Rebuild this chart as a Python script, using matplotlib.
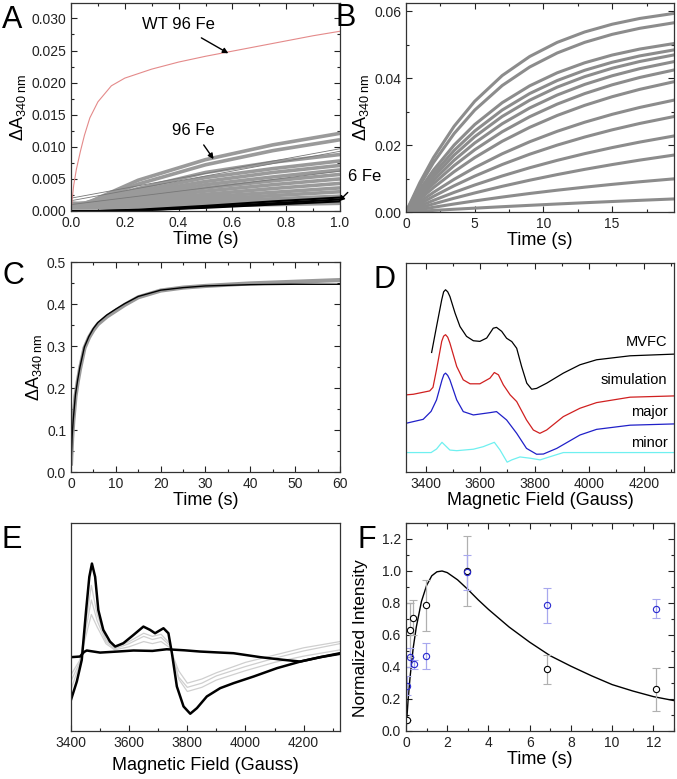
import matplotlib
matplotlib.use("Agg")
import matplotlib.pyplot as plt
from matplotlib.ticker import MultipleLocator, NullLocator, FormatStrFormatter

plt.rcParams['font.family'] = ['Liberation Sans', 'DejaVu Sans']
plt.rcParams['mathtext.fontset'] = 'custom'
plt.rcParams['mathtext.rm'] = 'Liberation Sans'
plt.rcParams['mathtext.it'] = 'Liberation Sans:italic'

# ---------------- Panel A data ----------------
A_wt_t = [0, 0.01, 0.02, 0.035, 0.05, 0.07, 0.1, 0.15, 0.2, 0.3, 0.4, 0.5, 0.6, 0.7, 0.8, 0.9, 1.0]
A_wt_y = [0, 0.0040, 0.0065, 0.0093, 0.0118, 0.0145, 0.0170, 0.0195, 0.0207, 0.0221,
          0.0232, 0.0241, 0.0249, 0.0257, 0.0265, 0.0273, 0.0280]
A_t = [0, 0.05, 0.1, 0.25, 0.5, 0.75, 1.0]
A_gray = [
    [0.0012, 0.0010, 0.0020, 0.0048, 0.0080, 0.0103, 0.0121],
    [0.0012, 0.0012, 0.0019, 0.0042, 0.0072, 0.0094, 0.0111],
    [0.0010, 0.0012, 0.0017, 0.0035, 0.0060, 0.0076, 0.0088],
    [0.0010, 0.0012, 0.0016, 0.0031, 0.0052, 0.0066, 0.0078],
    [0.0010, 0.0011, 0.0015, 0.0028, 0.0046, 0.0060, 0.0071],
    [0.0010, 0.0011, 0.0014, 0.0025, 0.0041, 0.0053, 0.0064],
    [0.0010, 0.0011, 0.0013, 0.0022, 0.0036, 0.0047, 0.0057],
    [0.0010, 0.0010, 0.0012, 0.0019, 0.0031, 0.0041, 0.0050],
    [0.0010, 0.0010, 0.0011, 0.0016, 0.0026, 0.0035, 0.0043],
    [0.0010, 0.0010, 0.0010, 0.0014, 0.0022, 0.0029, 0.0036],
    [0.0008, 0.0008, 0.0009, 0.0012, 0.0018, 0.0024, 0.0030],
    [0.0008, 0.0008, 0.0008, 0.0010, 0.0015, 0.0019, 0.0023],
    [0.0006, 0.0006, 0.0006, 0.0008, 0.0011, 0.0014, 0.0017],
    [0.0005, 0.0005, 0.0005, 0.0006, 0.0008, 0.0010, 0.0012],
]
A_black = [
    [0, 0, 0, 0.0002, 0.0008, 0.0015, 0.0021],
    [0, 0, 0, 0.0001, 0.0006, 0.0012, 0.0018],
    [0, 0, 0, 0.0001, 0.0005, 0.0010, 0.0015],
]
A_fit_t = [0, 1.0]
A_fits = [[0.0020, 0.0097], [0.0016, 0.0093], [0.0010, 0.0062]]

# ---------------- Panel B data ----------------
B_t = [0, 1, 2, 3.5, 5, 7, 9, 11, 13, 15, 17, 19.5]
B_traces = [
    [0, 0.00873, 0.01624, 0.02559, 0.03306, 0.04074, 0.04643, 0.05064, 0.05375, 0.05606, 0.05778, 0.0593],
    [0, 0.00789, 0.01476, 0.02341, 0.03043, 0.03776, 0.04329, 0.04748, 0.05065, 0.05304, 0.05484, 0.0565],
    [0, 0.00666, 0.01251, 0.01997, 0.02611, 0.03264, 0.03767, 0.04156, 0.04455, 0.04686, 0.04864, 0.0503],
    [0, 0.00606, 0.01143, 0.01837, 0.02417, 0.03044, 0.03537, 0.03925, 0.04231, 0.04471, 0.0466, 0.0484],
    [0, 0.00554, 0.01049, 0.01697, 0.02248, 0.02853, 0.03338, 0.03728, 0.04041, 0.04292, 0.04493, 0.0469],
    [0, 0.00498, 0.00949, 0.01546, 0.0206, 0.02635, 0.03106, 0.03492, 0.03809, 0.04067, 0.04279, 0.0449],
    [0, 0.00441, 0.00844, 0.01385, 0.01858, 0.02396, 0.02845, 0.03221, 0.03535, 0.03797, 0.04016, 0.0424],
    [0, 0.00379, 0.00728, 0.01203, 0.01624, 0.02112, 0.02527, 0.02882, 0.03184, 0.03442, 0.03661, 0.0389],
    [0, 0.00303, 0.00586, 0.00975, 0.01325, 0.01738, 0.02097, 0.02409, 0.0268, 0.02916, 0.03121, 0.0334],
    [0, 0.00241, 0.00467, 0.00783, 0.01071, 0.01418, 0.01725, 0.01997, 0.02238, 0.02453, 0.02643, 0.0285],
    [0, 0.00178, 0.00347, 0.00585, 0.00806, 0.01076, 0.01321, 0.01542, 0.01742, 0.01923, 0.02087, 0.0227],
    [0, 0.00123, 0.00241, 0.0041, 0.00569, 0.00767, 0.00949, 0.01117, 0.01273, 0.01416, 0.01549, 0.0170],
    [0, 0.00072, 0.00141, 0.00239, 0.00331, 0.00446, 0.00553, 0.00651, 0.00741, 0.00825, 0.00902, 0.0099],
    [0, 0.00024, 0.00047, 0.00082, 0.00115, 0.00158, 0.00199, 0.00239, 0.00277, 0.00313, 0.00348, 0.0039],
]

# ---------------- Panel C data ----------------
C_t = [0, 0.25, 0.5, 1, 1.5, 2, 3, 4, 5, 6, 8, 10, 12, 15, 20, 25, 30, 40, 50, 60]
C_data = [0.02, 0.08, 0.12, 0.18, 0.215, 0.245, 0.295, 0.32, 0.338, 0.352, 0.37, 0.384,
          0.398, 0.416, 0.432, 0.439, 0.443, 0.449, 0.453, 0.457]
C_fit = [0.02, 0.085, 0.125, 0.185, 0.22, 0.25, 0.298, 0.323, 0.342, 0.356, 0.374, 0.388,
         0.401, 0.418, 0.433, 0.439, 0.443, 0.446, 0.447, 0.447]

# ---------------- Panel D data ----------------
D_mvfc_x = [3422, 3440, 3459, 3466, 3473, 3481, 3489, 3508, 3526, 3550, 3575, 3599, 3624, 3648,
            3660, 3679, 3697, 3716, 3734, 3752, 3771, 3789, 3807, 3844, 3905, 3966, 4027, 4150, 4311]
D_mvfc_y = [0.572, 0.696, 0.824, 0.862, 0.872, 0.862, 0.840, 0.760, 0.696, 0.649, 0.628, 0.625,
            0.641, 0.688, 0.692, 0.673, 0.640, 0.624, 0.592, 0.505, 0.425, 0.396, 0.400, 0.425,
            0.473, 0.513, 0.537, 0.556, 0.564]
D_sim_x = [3328, 3355, 3385, 3415, 3427, 3440, 3459, 3466, 3473, 3481, 3489, 3514, 3538, 3563,
           3599, 3636, 3652, 3667, 3685, 3710, 3734, 3770, 3795, 3819, 3844, 3905, 3966, 4027,
           4150, 4311]
D_sim_y = [0.369, 0.372, 0.380, 0.388, 0.405, 0.490, 0.625, 0.650, 0.657, 0.645, 0.617, 0.505,
           0.441, 0.422, 0.422, 0.449, 0.476, 0.465, 0.417, 0.369, 0.337, 0.249, 0.201, 0.185,
           0.201, 0.265, 0.305, 0.332, 0.358, 0.364]
D_major_x = [3328, 3391, 3420, 3440, 3460, 3467, 3473, 3481, 3489, 3514, 3538, 3575, 3636, 3660,
             3697, 3734, 3770, 3807, 3832, 3881, 3966, 4027, 4150, 4311]
D_major_y = [0.233, 0.252, 0.290, 0.345, 0.440, 0.466, 0.473, 0.462, 0.441, 0.345, 0.289, 0.273,
             0.284, 0.289, 0.249, 0.185, 0.113, 0.085, 0.086, 0.113, 0.177, 0.204, 0.224, 0.230]
D_minor_x = [3328, 3420, 3440, 3460, 3489, 3514, 3575, 3611, 3652, 3673, 3699, 3716, 3746,
             3783, 3820, 3856, 3905, 4311]
D_minor_y = [0.093, 0.093, 0.110, 0.142, 0.105, 0.102, 0.109, 0.121, 0.142, 0.105, 0.047,
             0.058, 0.072, 0.066, 0.058, 0.073, 0.093, 0.093]
D_labels = ["MVFC", "simulation", "major", "minor"]

# ---------------- Panel E data ----------------
E_x1 = [3400, 3420, 3437, 3452, 3463, 3472, 3483, 3494, 3511, 3534, 3552, 3580, 3615, 3649,
        3672, 3689, 3718, 3735, 3747, 3764, 3787, 3810, 3833, 3867, 3913, 3959, 4028, 4108,
        4189, 4258, 4325]
E_y1 = [0.150, 0.238, 0.342, 0.581, 0.741, 0.805, 0.741, 0.581, 0.486, 0.430, 0.406, 0.422,
        0.462, 0.502, 0.486, 0.470, 0.494, 0.470, 0.374, 0.214, 0.118, 0.083, 0.110, 0.166,
        0.206, 0.230, 0.262, 0.302, 0.334, 0.355, 0.371]
E_x2 = [3400, 3431, 3445, 3454, 3500, 3560, 3615, 3680, 3729, 3790, 3844, 3900, 3959, 4051,
        4131, 4188, 4257, 4325]
E_y2 = [0.355, 0.358, 0.380, 0.387, 0.377, 0.382, 0.387, 0.385, 0.393, 0.388, 0.382, 0.378,
        0.374, 0.355, 0.342, 0.334, 0.355, 0.374]
E_xg = [3400, 3430, 3450, 3470, 3490, 3520, 3550, 3600, 3650, 3680, 3710, 3740, 3770, 3800,
        3850, 3900, 4000, 4100, 4200, 4325]
E_gray = [
    [0.20, 0.32, 0.51, 0.70, 0.56, 0.44, 0.40, 0.43, 0.47, 0.455, 0.465, 0.42, 0.25, 0.19,
     0.21, 0.245, 0.29, 0.33, 0.36, 0.39],
    [0.24, 0.33, 0.48, 0.63, 0.53, 0.43, 0.395, 0.42, 0.455, 0.44, 0.45, 0.41, 0.26, 0.21,
     0.23, 0.265, 0.31, 0.35, 0.385, 0.42],
    [0.27, 0.34, 0.45, 0.56, 0.50, 0.42, 0.39, 0.405, 0.43, 0.42, 0.43, 0.40, 0.29, 0.23,
     0.25, 0.28, 0.33, 0.365, 0.40, 0.43],
]

# ---------------- Panel F data ----------------
F_t_black = [0.05, 0.19, 0.35, 0.98, 2.95, 6.85, 12.15]
F_y_black = [0.066, 0.63, 0.708, 0.786, 1.0, 0.385, 0.261]
F_err_black = [0.0, 0.17, 0.11, 0.16, 0.22, 0.09, 0.135]
F_t_blue = [0.05, 0.19, 0.38, 0.98, 2.95, 6.85, 12.15]
F_y_blue = [0.282, 0.461, 0.416, 0.467, 0.993, 0.786, 0.765]
F_err_blue = [0.06, 0.06, 0.03, 0.08, 0.11, 0.11, 0.06]
F_model_t = [0, 0.1, 0.2, 0.35, 0.5, 0.75, 1.0, 1.25, 1.5, 1.75, 2.0, 2.5, 3, 3.5, 4, 5, 6, 7,
             8, 9, 10, 11, 12, 13]
F_model_y = [0, 0.19, 0.34, 0.52, 0.65, 0.81, 0.91, 0.97, 0.995, 1.0, 0.99, 0.945, 0.885,
             0.82, 0.76, 0.65, 0.555, 0.47, 0.405, 0.345, 0.29, 0.25, 0.215, 0.19]

# ---------------- Figure ----------------
W, H = 677, 779
fig = plt.figure(figsize=(W / 100, H / 100), dpi=100)


def ax_px(left, top, right, bottom):
    return fig.add_axes([left / W, 1 - bottom / H, (right - left) / W, (bottom - top) / H])


def style(ax, top=True, right=True, left=True):
    ax.tick_params(which='both', direction='in', top=top, right=right, left=left,
                   labelsize=10, width=0.8, colors='#222222')
    ax.tick_params(which='major', length=4)
    ax.tick_params(which='minor', length=2.5)
    for s in ax.spines.values():
        s.set_linewidth(0.9)
        s.set_color('#333333')


ylab = 'ΔA$_{\\mathrm{340\\ nm}}$'
LBL = 13
LETTER = 22

# Panel A
axA = ax_px(71, 3, 340, 211)
for tr in A_gray:
    axA.plot(A_t, tr, color='#9a9a9a', lw=2.6, solid_capstyle='butt')
for tr in A_fits:
    axA.plot(A_fit_t, tr, color='#777777', lw=0.6)
for tr in A_black:
    axA.plot(A_t, tr, color='black', lw=1.5)
axA.plot(A_wt_t, A_wt_y, color='#e48a8a', lw=0.8)
axA.set_xlim(0, 1.0)
axA.set_ylim(0, 0.0324)
axA.xaxis.set_major_locator(MultipleLocator(0.2))
axA.xaxis.set_minor_locator(MultipleLocator(0.1))
axA.yaxis.set_major_locator(MultipleLocator(0.005))
axA.yaxis.set_minor_locator(MultipleLocator(0.0025))
axA.xaxis.set_major_formatter(FormatStrFormatter('%.1f'))
axA.yaxis.set_major_formatter(FormatStrFormatter('%.3f'))
style(axA)
axA.set_xlabel('Time (s)', fontsize=LBL, labelpad=1)
axA.set_ylabel(ylab, fontsize=LBL, labelpad=2)
axA.annotate('WT 96 Fe', xy=(0.585, 0.02456), xytext=(0.40, 0.0290), fontsize=12,
             ha='center', va='center',
             arrowprops=dict(arrowstyle='-|>', color='black', lw=1.0, mutation_scale=8,
                             shrinkA=4, shrinkB=0))
axA.annotate('96 Fe', xy=(0.53, 0.00808), xytext=(0.455, 0.0126), fontsize=12,
             ha='center', va='center',
             arrowprops=dict(arrowstyle='-|>', color='black', lw=1.0, mutation_scale=8,
                             shrinkA=4, shrinkB=0))
axA.annotate('6 Fe', xy=(0.995, 0.0015), xytext=(1.09, 0.0054), fontsize=12,
             ha='center', va='center', annotation_clip=False,
             arrowprops=dict(arrowstyle='-|>', color='black', lw=1.0, mutation_scale=8,
                             shrinkA=6, shrinkB=0))

# Panel B
axB = ax_px(406, 3, 674, 212)
for tr in B_traces:
    axB.plot(B_t, tr, color='#8c8c8c', lw=2.2)
axB.set_xlim(0, 19.5)
axB.set_ylim(0, 0.0624)
axB.xaxis.set_major_locator(MultipleLocator(5))
axB.xaxis.set_minor_locator(MultipleLocator(2.5))
axB.yaxis.set_major_locator(MultipleLocator(0.02))
axB.yaxis.set_minor_locator(MultipleLocator(0.01))
axB.yaxis.set_major_formatter(FormatStrFormatter('%.2f'))
style(axB)
axB.set_xlabel('Time (s)', fontsize=LBL, labelpad=1)
axB.set_ylabel(ylab, fontsize=LBL, labelpad=2)

# Panel C
axC = ax_px(71, 262, 340, 472)
axC.plot(C_t, C_data, color='#9a9a9a', lw=3.0)
axC.plot(C_t, C_fit, color='black', lw=1.0)
axC.set_xlim(0, 60)
axC.set_ylim(0, 0.5)
axC.xaxis.set_major_locator(MultipleLocator(10))
axC.xaxis.set_minor_locator(MultipleLocator(5))
axC.yaxis.set_major_locator(MultipleLocator(0.1))
axC.yaxis.set_minor_locator(MultipleLocator(0.05))
axC.yaxis.set_major_formatter(FormatStrFormatter('%.1f'))
style(axC)
axC.set_xlabel('Time (s)', fontsize=LBL, labelpad=1)
axC.set_ylabel(ylab, fontsize=LBL, labelpad=2)

# Panel D
axD = ax_px(406, 263, 674, 472)
axD.plot(D_mvfc_x, D_mvfc_y, color='black', lw=0.9)
axD.plot(D_sim_x, D_sim_y, color='#d02020', lw=0.9)
axD.plot(D_major_x, D_major_y, color='#2020c8', lw=0.9)
axD.plot(D_minor_x, D_minor_y, color='#6ff0f0', lw=0.9)
axD.set_xlim(3328, 4311)
axD.set_ylim(0, 1)
axD.xaxis.set_major_locator(MultipleLocator(200))
axD.xaxis.set_minor_locator(MultipleLocator(100))
axD.yaxis.set_major_locator(NullLocator())
style(axD, right=False, left=False)
axD.set_xlabel('Magnetic Field (Gauss)', fontsize=LBL, labelpad=1)
for lab, yy in zip(D_labels, [0.623, 0.44, 0.289, 0.139]):
    axD.text(0.975, yy, lab, transform=axD.transAxes, ha='right', va='center', fontsize=10.5)

# Panel E
axE = ax_px(71, 523, 340, 731)
for tr in E_gray:
    axE.plot(E_xg, tr, color='#cfcfcf', lw=0.9)
axE.plot(E_x2, E_y2, color='black', lw=1.8)
axE.plot(E_x1, E_y1, color='black', lw=1.8)
axE.set_xlim(3400, 4325)
axE.set_ylim(0, 1)
axE.xaxis.set_major_locator(MultipleLocator(200))
axE.xaxis.set_minor_locator(MultipleLocator(100))
axE.yaxis.set_major_locator(NullLocator())
style(axE, top=False, right=False, left=False)
axE.set_xlabel('Magnetic Field (Gauss)', fontsize=LBL, labelpad=5)

# Panel F
axF = ax_px(406, 523, 674, 731)
axF.plot(F_model_t, F_model_y, color='black', lw=1.0)
axF.errorbar(F_t_black, F_y_black, yerr=F_err_black, fmt='o', mfc='white', mec='black',
             ms=4.5, mew=0.8, ecolor='#b0b0b0', elinewidth=0.9, capsize=3, capthick=0.9)
axF.errorbar(F_t_blue, F_y_blue, yerr=F_err_blue, fmt='o', mfc='none', mec='#2a2ad0',
             ms=4.5, mew=0.8, ecolor='#a8a8ee', elinewidth=0.9, capsize=3, capthick=0.9)
axF.set_xlim(0, 13)
axF.set_ylim(0, 1.3)
axF.xaxis.set_major_locator(MultipleLocator(2))
axF.xaxis.set_minor_locator(MultipleLocator(1))
axF.yaxis.set_major_locator(MultipleLocator(0.2))
axF.yaxis.set_minor_locator(MultipleLocator(0.1))
axF.yaxis.set_major_formatter(FormatStrFormatter('%.1f'))
style(axF)
axF.set_xlabel('Time (s)', fontsize=LBL, labelpad=1)
axF.set_ylabel('Normalized Intensity', fontsize=12.5)
axF.yaxis.set_label_coords(-0.142, 0.445)

# Panel letters
for letter, x, y in [('A', 2, 5), ('B', 335, 3), ('C', 2, 261), ('D', 373, 265),
                     ('E', 2, 525), ('F', 358, 525)]:
    fig.text(x / W, 1 - y / H, letter, fontsize=LETTER, ha='left', va='top')

fig.savefig('out.png', dpi=100)
